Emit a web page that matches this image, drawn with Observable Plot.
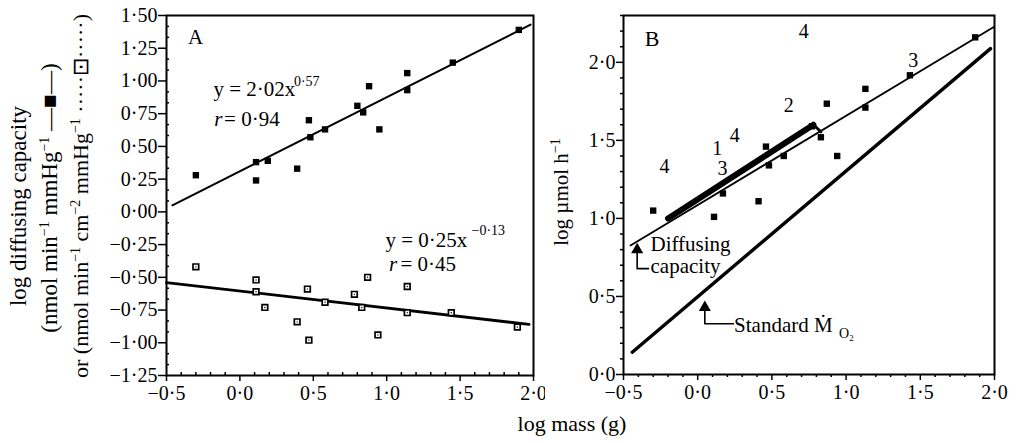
<!DOCTYPE html>
<html>
<head>
<meta charset="utf-8">
<script src="https://cdn.jsdelivr.net/npm/d3@7"></script>
<script src="https://cdn.jsdelivr.net/npm/@observablehq/plot@0.6"></script>
<style>
  body { margin: 0; background: white; }
  #wrap { position: relative; width: 1021px; height: 443px; font-family: "Liberation Serif", serif; color: black; background: white; overflow: hidden; }
  #A, #B { position: absolute; top: 0; }
  #A { left: 0; }
  #B { left: 545px; }
  svg { overflow: visible; }
  .rot { position: absolute; white-space: nowrap; transform: translate(-50%, -50%) rotate(-90deg); font-size: 22px; line-height: 1; }
  .rot sup { font-size: 14px; vertical-align: 0.55em; line-height: 0; }
  .xl { position: absolute; white-space: nowrap; transform: translate(-50%, -50%); font-size: 22px; }
</style>
</head>
<body>
<div id="wrap">
  <div id="A"></div>
  <div id="B"></div>
  <div class="rot" style="left:18px;top:206px;font-size:23px">log diffusing capacity</div>
  <div class="rot" style="left:49px;top:198px;font-size:23px">(nmol min<sup>−1</sup> mmHg<sup>−1</sup> —■—)</div>
  <div class="rot" style="left:81px;top:196px">or (nmol min<sup>−1</sup> cm<sup>−2</sup> mmHg<sup>−1</sup> ·····⊡·····)</div>
  <div class="rot" style="left:561px;top:192px;font-size:21px">log µmol h<sup>−1</sup></div>
  <div class="xl" style="left:572px;top:424px">log mass (g)</div>
</div>
<script>
// ---- Panel A: filled squares (diffusing capacity, nmol min-1 mmHg-1)
const massFilledA = [-0.30, 0.11, 0.11, 0.19, 0.39, 0.47, 0.48, 0.58, 0.80, 0.84, 0.88, 0.95, 1.14, 1.14, 1.45, 1.90];
const diffFilledA = [0.28, 0.38, 0.24, 0.39, 0.33, 0.70, 0.57, 0.63, 0.81, 0.76, 0.96, 0.63, 1.06, 0.93, 1.14, 1.39];
// ---- Panel A: open squares (mass-specific, nmol min-1 cm-2 mmHg-1)
const massOpenA = [-0.30, 0.11, 0.11, 0.17, 0.39, 0.46, 0.47, 0.58, 0.78, 0.83, 0.87, 0.94, 1.14, 1.14, 1.44, 1.89];
const diffOpenA = [-0.42, -0.52, -0.61, -0.73, -0.84, -0.59, -0.98, -0.69, -0.63, -0.73, -0.50, -0.94, -0.57, -0.77, -0.77, -0.88];
// ---- Panel A: regression lines (end points)
const fitFilledAX = [-0.46, 1.98];
const fitFilledAY = [0.05, 1.43];
const fitOpenAX = [-0.50, 1.97];
const fitOpenAY = [-0.54, -0.86];
// ---- Panel B: filled squares (diffusing capacity, µmol h-1)
const massB = [-0.30, 0.11, 0.17, 0.41, 0.46, 0.48, 0.58, 0.77, 0.83, 0.87, 0.94, 1.13, 1.13, 1.43, 1.87];
const rateB = [1.05, 1.01, 1.16, 1.11, 1.46, 1.34, 1.40, 1.59, 1.52, 1.735, 1.40, 1.83, 1.71, 1.917, 2.16];
// ---- Panel B lines
const diffLineBX = [-0.453, 1.995];
const diffLineBY = [0.827, 2.226];
const stdLineBX = [-0.441, 1.973];
const stdLineBY = [0.143, 2.088];
const bandBX = [-0.20, 0.78];
const bandBY = [1.00, 1.60];
const bandCapX = [0.78, 0.83];
const bandCapY = [1.60, 1.555];
// ---- Panel B number labels
const numLabelX = [0.715, 1.452, 0.614, 0.25, 0.131, 0.167, -0.224];
const numLabelY = [2.194, 2.013, 1.724, 1.532, 1.447, 1.319, 1.329];
const numLabelText = ["4", "3", "2", "4", "1", "3", "4"];
// ---- ticks
const xTicks = [-0.5, 0, 0.5, 1.0, 1.5, 2.0];
const yTicksA = [-1.25, -1.0, -0.75, -0.5, -0.25, 0, 0.25, 0.5, 0.75, 1.0, 1.25, 1.5];
const yTicksB = [0, 0.5, 1.0, 1.5, 2.0];

const zip = (xs, ys) => xs.map((x, i) => ({x, y: ys[i]}));
const dotFmt = (digits) => (d) => (d < 0 ? "−" : "") + Math.abs(d).toFixed(digits).replace(".", "·");
const minorX = d3.range(-5, 21).map(i => i / 10).filter(v => !xTicks.some(t => Math.abs(t - v) < 1e-9));
const minorYA = d3.range(-33, 40).map(i => i * 0.25 / 3).filter(v => v >= -1.25 && v <= 1.5 && !yTicksA.some(t => Math.abs(t - v) < 1e-6));
const minorYB = d3.range(0, 24).map(i => i / 10).filter(v => !yTicksB.some(t => Math.abs(t - v) < 1e-9));

const font = {fontFamily: "Liberation Serif, serif", fontSize: "20px", color: "black", background: "white", overflow: "visible"};
const T = 21;   // annotation font size
const TS = 14;  // superscript size

const plotA = Plot.plot({
  width: 545, height: 443,
  marginLeft: 166, marginRight: 12, marginTop: 15, marginBottom: 68,
  x: {domain: [-0.5, 2.0]},
  y: {domain: [-1.25, 1.5]},
  style: font,
  marks: [
    Plot.axisX({ticks: xTicks, tickFormat: dotFmt(1), tickSize: 6, tickPadding: 4, label: null, fontSize: 20, strokeWidth: 1.5}),
    Plot.axisX({ticks: minorX, tickFormat: () => "", tickSize: -3, label: null, strokeWidth: 1.5}),
    Plot.axisY({ticks: yTicksA, tickFormat: dotFmt(2), tickSize: 8, tickPadding: 1, label: null, fontSize: 20, strokeWidth: 1.5}),
    Plot.axisY({ticks: minorYA, tickFormat: () => "", tickSize: -3, label: null, strokeWidth: 1.5}),
    Plot.line(zip(fitFilledAX, fitFilledAY), {x: "x", y: "y", stroke: "black", strokeWidth: 2}),
    Plot.line(zip(fitOpenAX, fitOpenAY), {x: "x", y: "y", stroke: "black", strokeWidth: 2.8}),
    Plot.dot(zip(massFilledA, diffFilledA), {x: "x", y: "y", symbol: "square", r: 3.6, fill: "black", stroke: "none"}),
    Plot.dot(zip(massOpenA, diffOpenA), {x: "x", y: "y", symbol: "square", r: 3.2, fill: "white", stroke: "black", strokeWidth: 1.7}),
    Plot.dot(zip(massOpenA, diffOpenA), {x: "x", y: "y", r: 0.7, fill: "black"}),
    Plot.text(["A"], {x: -0.302, y: 1.332, fontSize: T, fill: "black"}),
    Plot.text(["y = 2·02x"], {x: -0.18, y: 0.94, textAnchor: "start", fontSize: T, fill: "black"}),
    Plot.text(["0·57"], {x: 0.368, y: 0.995, textAnchor: "start", fontSize: TS, fill: "black"}),
    Plot.text(["r"], {x: -0.175, y: 0.71, textAnchor: "start", fontSize: T, fontStyle: "italic", fill: "black"}),
    Plot.text(["= 0·94"], {x: -0.108, y: 0.71, textAnchor: "start", fontSize: T, fill: "black"}),
    Plot.text(["y = 0·25x"], {x: 0.992, y: -0.219, textAnchor: "start", fontSize: T, fill: "black"}),
    Plot.text(["−0·13"], {x: 1.578, y: -0.14, textAnchor: "start", fontSize: TS, fill: "black"}),
    Plot.text(["r"], {x: 1.015, y: -0.402, textAnchor: "start", fontSize: T, fontStyle: "italic", fill: "black"}),
    Plot.text(["= 0·45"], {x: 1.094, y: -0.402, textAnchor: "start", fontSize: T, fill: "black"}),
    Plot.frame({stroke: "black", strokeWidth: 2})
  ]
});
document.getElementById("A").appendChild(plotA);

const plotB = Plot.plot({
  width: 476, height: 443,
  marginLeft: 78, marginRight: 27, marginTop: 15, marginBottom: 69,
  x: {domain: [-0.5, 2.0]},
  y: {domain: [0, 2.3]},
  style: font,
  marks: [
    Plot.axisX({ticks: xTicks, tickFormat: dotFmt(1), tickSize: 6, tickPadding: 4, label: null, fontSize: 20, strokeWidth: 1.5}),
    Plot.axisX({ticks: minorX, tickFormat: () => "", tickSize: 3, label: null, strokeWidth: 1.5}),
    Plot.axisY({ticks: yTicksB, tickFormat: dotFmt(1), tickSize: 7, tickPadding: 1, label: null, fontSize: 20, strokeWidth: 1.5}),
    Plot.axisY({ticks: minorYB, tickFormat: () => "", tickSize: 3, label: null, strokeWidth: 1.5}),
    Plot.line(zip(diffLineBX, diffLineBY), {x: "x", y: "y", stroke: "black", strokeWidth: 1.8}),
    Plot.line(zip(stdLineBX, stdLineBY), {x: "x", y: "y", stroke: "black", strokeWidth: 3.4}),
    Plot.line(zip(bandBX, bandBY), {x: "x", y: "y", stroke: "black", strokeWidth: 6, strokeLinecap: "round"}),
    Plot.line(zip(bandCapX, bandCapY), {x: "x", y: "y", stroke: "black", strokeWidth: 3, strokeLinecap: "round"}),
    Plot.dot(zip(massB, rateB), {x: "x", y: "y", symbol: "square", r: 3.6, fill: "black", stroke: "none"}),
    Plot.text(numLabelText.map((t, i) => ({t, x: numLabelX[i], y: numLabelY[i]})), {x: "x", y: "y", text: "t", fontSize: 20, fill: "black"}),
    Plot.text(["B"], {x: -0.307, y: 2.152, fontSize: 22, fill: "black"}),
    // Diffusing capacity annotation
    Plot.line([{x: -0.408, y: 0.80}, {x: -0.408, y: 0.678}, {x: -0.332, y: 0.678}], {x: "x", y: "y", stroke: "black", strokeWidth: 1.6}),
    Plot.dot([{x: -0.408, y: 0.80}], {x: "x", y: "y", symbol: "triangle", r: 4.5, fill: "black"}),
    Plot.text(["Diffusing"], {x: -0.318, y: 0.835, textAnchor: "start", fontSize: T, fill: "black"}),
    Plot.text(["capacity"], {x: -0.318, y: 0.695, textAnchor: "start", fontSize: T, fill: "black"}),
    // Standard MO2 annotation
    Plot.line([{x: 0.048, y: 0.43}, {x: 0.048, y: 0.325}, {x: 0.241, y: 0.325}], {x: "x", y: "y", stroke: "black", strokeWidth: 1.6}),
    Plot.dot([{x: 0.048, y: 0.43}], {x: "x", y: "y", symbol: "triangle", r: 4.5, fill: "black"}),
    Plot.text(["Standard Ṁ"], {x: 0.245, y: 0.318, textAnchor: "start", fontSize: T, fill: "black"}),
    Plot.text(["O₂"], {x: 0.952, y: 0.262, textAnchor: "start", fontSize: TS, fill: "black"}),
    Plot.frame({stroke: "black", strokeWidth: 2})
  ]
});
document.getElementById("B").appendChild(plotB);
</script>
</body>
</html>
